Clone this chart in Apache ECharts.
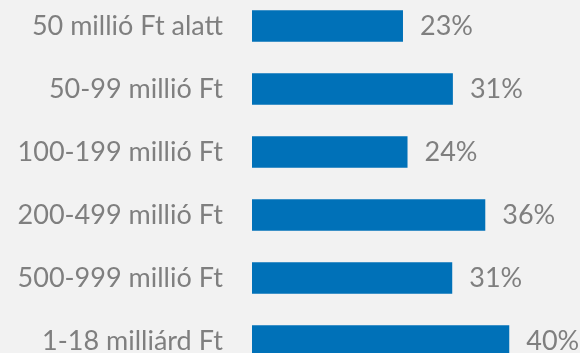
<!DOCTYPE html>
<html><head><meta charset="utf-8">
<script src="https://cdn.jsdelivr.net/npm/echarts@6/dist/echarts.min.js"></script>
<style>html,body{margin:0;padding:0;background:#f2f2f2;overflow:hidden;}#c{position:absolute;left:0;top:-6px;width:580px;height:384px;}</style>
</head><body><div id="c"></div>
<script>
const categories = ["50 millió Ft alatt","50-99 millió Ft","100-199 millió Ft","200-499 millió Ft","500-999 millió Ft","1-18 milliárd Ft"];
const values = [23.3, 31.0, 24.0, 36.0, 30.9, 39.7];
const labels = ["23%","31%","24%","36%","31%","40%"];

const chart = echarts.init(document.getElementById('c'), null, {renderer:'canvas'});
const FONT = 'Lato';
chart.setOption({
  backgroundColor:'#f2f2f2',
  animation:false,
  grid:{left:252, top:0.5, height:378, width:324},
  xAxis:{type:'value', min:0, max:50, show:false},
  yAxis:{type:'category', data:categories, inverse:true,
    axisLine:{show:false}, axisTick:{show:false}, splitLine:{show:false},
    axisLabel:{margin:29, color:'#7f7f7f', fontSize:27, fontFamily:FONT}},
  series:[{type:'bar', data:values, barWidth:'50%',
    itemStyle:{color:'#0071b8'},
    label:{show:true, position:'right', distance:17, color:'#7f7f7f', fontSize:27, fontFamily:FONT,
      formatter:p=>labels[p.dataIndex]}}]
});
</script></body></html>
